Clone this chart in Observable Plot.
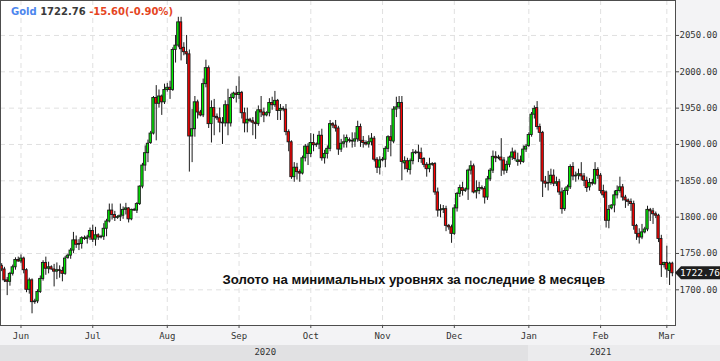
<!DOCTYPE html>
<html><head><meta charset="utf-8">
<script src="https://cdn.jsdelivr.net/npm/d3@7"></script>
<script src="https://cdn.jsdelivr.net/npm/@observablehq/plot@0.6"></script>
<style>
html,body{margin:0;padding:0;background:#fff;}
#wrap{position:relative;width:720px;height:361px;background:#f3f3f5;overflow:hidden;}
#wrap svg{position:absolute;left:0;top:0;}
.band{position:absolute;top:345px;height:16px;}
</style></head><body><div id="wrap"></div>
<script>
const dates = [
"2020-05-24","2020-05-25","2020-05-26","2020-05-27","2020-05-28","2020-05-29","2020-05-31",
"2020-06-01","2020-06-02","2020-06-03","2020-06-04","2020-06-05","2020-06-07","2020-06-08","2020-06-09","2020-06-10","2020-06-11","2020-06-12","2020-06-14","2020-06-15","2020-06-16","2020-06-17","2020-06-18","2020-06-19","2020-06-21","2020-06-22","2020-06-23","2020-06-24","2020-06-25","2020-06-26","2020-06-28","2020-06-29","2020-06-30",
"2020-07-01","2020-07-02","2020-07-03","2020-07-05","2020-07-06","2020-07-07","2020-07-08","2020-07-09","2020-07-10","2020-07-12","2020-07-13","2020-07-14","2020-07-15","2020-07-16","2020-07-17","2020-07-19","2020-07-20","2020-07-21","2020-07-22","2020-07-23","2020-07-24","2020-07-26","2020-07-27","2020-07-28","2020-07-29","2020-07-30","2020-07-31",
"2020-08-02","2020-08-03","2020-08-04","2020-08-05","2020-08-06","2020-08-07","2020-08-09","2020-08-10","2020-08-11","2020-08-12","2020-08-13","2020-08-14","2020-08-16","2020-08-17","2020-08-18","2020-08-19","2020-08-20","2020-08-21","2020-08-23","2020-08-24","2020-08-25","2020-08-26","2020-08-27","2020-08-28","2020-08-30","2020-08-31",
"2020-09-01","2020-09-02","2020-09-03","2020-09-04","2020-09-06","2020-09-07","2020-09-08","2020-09-09","2020-09-10","2020-09-11","2020-09-13","2020-09-14","2020-09-15","2020-09-16","2020-09-17","2020-09-18","2020-09-20","2020-09-21","2020-09-22","2020-09-23","2020-09-24","2020-09-25","2020-09-27","2020-09-28","2020-09-29","2020-09-30",
"2020-10-01","2020-10-02","2020-10-04","2020-10-05","2020-10-06","2020-10-07","2020-10-08","2020-10-09","2020-10-11","2020-10-12","2020-10-13","2020-10-14","2020-10-15","2020-10-16","2020-10-18","2020-10-19","2020-10-20","2020-10-21","2020-10-22","2020-10-23","2020-10-25","2020-10-26","2020-10-27","2020-10-28","2020-10-29","2020-10-30",
"2020-11-01","2020-11-02","2020-11-03","2020-11-04","2020-11-05","2020-11-06","2020-11-08","2020-11-09","2020-11-10","2020-11-11","2020-11-12","2020-11-13","2020-11-15","2020-11-16","2020-11-17","2020-11-18","2020-11-19","2020-11-20","2020-11-22","2020-11-23","2020-11-24","2020-11-25","2020-11-26","2020-11-27","2020-11-29","2020-11-30",
"2020-12-01","2020-12-02","2020-12-03","2020-12-04","2020-12-06","2020-12-07","2020-12-08","2020-12-09","2020-12-10","2020-12-11","2020-12-13","2020-12-14","2020-12-15","2020-12-16","2020-12-17","2020-12-18","2020-12-20","2020-12-21","2020-12-22","2020-12-23","2020-12-24","2020-12-25","2020-12-27","2020-12-28","2020-12-29","2020-12-30","2020-12-31",
"2021-01-01","2021-01-03","2021-01-04","2021-01-05","2021-01-06","2021-01-07","2021-01-08","2021-01-10","2021-01-11","2021-01-12","2021-01-13","2021-01-14","2021-01-15","2021-01-17","2021-01-18","2021-01-19","2021-01-20","2021-01-21","2021-01-22","2021-01-24","2021-01-25","2021-01-26","2021-01-27","2021-01-28","2021-01-29","2021-01-31",
"2021-02-01","2021-02-02","2021-02-03","2021-02-04","2021-02-05","2021-02-07","2021-02-08","2021-02-09","2021-02-10","2021-02-11","2021-02-12","2021-02-14","2021-02-15","2021-02-16","2021-02-17","2021-02-18","2021-02-19","2021-02-21","2021-02-22","2021-02-23","2021-02-24","2021-02-25","2021-02-26","2021-02-28",
"2021-03-01","2021-03-02","2021-03-03"];

const open = [
1733,1728,1713,1711,1722,1731,1741,
1739,1743,1727,1700,1713,1683,1684,1697,1715,1737,
1729,1731,1728,1725,1727,1726,1722,1744,1747,1754,
1768,1762,1763,1771,1770,1772,1781,1769,1775,1772,
1773,1784,1794,1809,1803,1799,1800,1802,1810,1812,
1797,1810,1809,1818,1842,1871,1888,1902,1915,1964,
1956,1966,1958,1975,1978,1975,2030,2036,2068,2033,
2027,2024,1911,1921,1958,1944,1940,1983,2005,1928,
1950,1938,1936,1930,1929,1954,1929,1964,1970,1968,
1971,1943,1929,1934,1932,1930,1928,1947,1944,1940,
1943,1957,1954,1960,1946,1949,1948,1917,1903,1855,
1868,1862,1860,1881,1897,1887,1902,1899,1900,1912,
1881,1887,1894,1928,1926,1922,1893,1901,1903,1906,
1905,1904,1907,1924,1905,1902,1900,1903,1908,1879,
1868,1878,1879,1894,1910,1904,1948,1951,1957,1874,
1877,1865,1877,1888,1889,1888,1880,1872,1866,1872,
1873,1834,1809,1810,1811,1788,1786,1777,1812,1832,
1840,1836,1838,1864,1870,1834,1836,1840,1839,1827,
1852,1864,1883,1881,1882,1878,1864,1872,1882,1889,
1876,1878,1876,1893,1898,1913,1941,1950,1924,1916,
1849,1846,1847,1857,1846,1848,1834,1811,1836,1841,
1869,1856,1857,1859,1856,1850,1841,1847,1846,1865,
1857,1836,1834,1795,1812,1816,1830,1836,1841,1827,
1823,1821,1818,1788,1777,1772,1779,1783,1810,1808,
1804,1802,1770,1734,1737,1726,1736];

const high = [
1736,1731,1717,1724,1734,1744,1745,
1748,1745,1729,1716,1715,1687,1700,1719,1740,1745,
1738,1733,1735,1737,1733,1731,1746,1749,1757,1779,
1774,1769,1773,1774,1775,1785,1789,1786,1777,1775,
1791,1797,1818,1818,1808,1802,1818,1814,1819,1813,
1811,1812,1820,1843,1874,1898,1906,1918,1966,1981,
1975,1968,1983,1984,1987,2033,2050,2075,2075,2040,
2050,2030,1948,1966,1961,1947,1990,2016,2008,1960,
1962,1942,1950,1937,1960,1976,1969,1972,1980,1993,
1973,1950,1950,1936,1937,1945,1953,1966,1950,1945,
1963,1965,1973,1962,1955,1952,1955,1920,1905,1875,
1874,1865,1884,1900,1901,1915,1914,1902,1918,1921,
1892,1898,1933,1930,1933,1925,1907,1913,1913,1909,
1916,1916,1932,1928,1911,1905,1912,1915,1911,1882,
1883,1882,1897,1912,1926,1952,1965,1966,1966,1883,
1881,1880,1893,1892,1899,1895,1882,1875,1881,1875,
1875,1840,1817,1816,1815,1790,1789,1817,1834,1844,
1848,1840,1866,1877,1873,1850,1848,1843,1842,1856,
1867,1891,1890,1885,1908,1882,1877,1884,1895,1892,
1888,1884,1898,1900,1916,1944,1953,1959,1928,1918,
1856,1863,1866,1865,1855,1852,1840,1840,1844,1872,
1875,1862,1866,1875,1860,1855,1853,1852,1875,1868,
1860,1844,1836,1816,1817,1836,1843,1855,1845,1830,
1825,1825,1822,1790,1784,1790,1786,1815,1812,1812,
1807,1804,1775,1738,1760,1738,1738];

const low = [
1725,1710,1692,1705,1719,1727,1738,
1736,1722,1696,1694,1667,1680,1681,1695,1712,1720,
1722,1727,1704,1714,1716,1711,1720,1742,1742,1750,
1757,1754,1756,1768,1763,1768,1765,1760,1768,1770,
1768,1773,1792,1796,1794,1797,1794,1797,1803,1792,
1795,1808,1805,1816,1839,1863,1875,1900,1913,1905,
1950,1940,1955,1972,1962,1973,2012,2033,2015,2022,
2010,1862,1875,1910,1935,1938,1937,1978,1922,1902,
1912,1933,1916,1900,1924,1912,1924,1962,1957,1962,
1935,1916,1916,1930,1912,1907,1925,1937,1930,1938,
1938,1947,1951,1933,1933,1945,1912,1890,1852,1848,
1851,1848,1858,1876,1871,1882,1890,1896,1893,1877,
1873,1880,1890,1922,1917,1885,1889,1895,1895,1902,
1895,1896,1903,1896,1895,1898,1895,1898,1876,1860,
1858,1876,1868,1889,1883,1901,1937,1948,1850,1865,
1861,1858,1872,1886,1875,1874,1868,1855,1861,1870,
1830,1800,1799,1805,1780,1782,1764,1775,1807,1827,
1829,1834,1823,1858,1832,1825,1831,1837,1818,1823,
1849,1860,1875,1879,1856,1858,1860,1868,1878,1877,
1870,1872,1874,1889,1896,1910,1935,1920,1903,1827,
1840,1836,1844,1842,1842,1830,1804,1808,1830,1838,
1850,1848,1851,1850,1842,1834,1836,1843,1844,1852,
1832,1826,1785,1784,1810,1806,1825,1833,1822,1812,
1815,1808,1782,1768,1763,1769,1777,1780,1794,1790,
1798,1765,1717,1730,1716,1706,1718];

const close = [
1728,1713,1711,1722,1731,1741,1739,
1743,1727,1700,1713,1683,1684,1697,1715,1737,1729,
1731,1728,1725,1727,1726,1722,1743,1747,1754,1768,
1762,1763,1771,1770,1772,1781,1769,1775,1772,1773,
1784,1794,1809,1803,1799,1800,1802,1810,1812,1797,
1810,1809,1818,1842,1871,1888,1901,1915,1964,1956,
1966,1958,1975,1978,1975,2030,2036,2068,2031,2027,
2024,1911,1921,1958,1944,1940,1983,2005,1928,1950,
1938,1936,1930,1929,1954,1929,1964,1970,1968,1971,
1943,1929,1934,1932,1930,1928,1947,1944,1940,1943,
1957,1954,1960,1946,1949,1948,1917,1903,1855,1868,
1862,1860,1881,1897,1887,1902,1899,1900,1912,1881,
1887,1894,1928,1926,1922,1893,1901,1903,1909,1905,
1904,1907,1924,1905,1902,1900,1903,1908,1879,1868,
1878,1879,1894,1910,1905,1948,1951,1957,1876,1877,
1866,1877,1888,1889,1888,1880,1872,1866,1872,1873,
1834,1809,1810,1811,1788,1786,1777,1812,1832,1840,
1836,1838,1864,1870,1834,1836,1840,1839,1827,1852,
1864,1883,1881,1882,1878,1864,1872,1882,1889,1880,
1878,1876,1893,1897,1913,1941,1949,1924,1916,1849,
1846,1847,1857,1846,1848,1834,1811,1836,1841,1869,
1856,1857,1859,1856,1850,1840,1847,1846,1865,1857,
1836,1830,1795,1810,1816,1830,1836,1841,1827,1823,
1821,1818,1788,1777,1772,1779,1783,1810,1808,1804,
1802,1770,1734,1737,1728,1736,1722.76];

const monthLabels = ["Jun","Jul","Aug","Sep","Oct","Nov","Dec","Jan","Feb","Mar"];
const yearLabels = ["2020","2021"];
const priceTicks = [1700,1750,1800,1850,1900,1950,2000,2050];
const titleSymbol = "Gold";
const titleLast = "1722.76";
const titleChange = "-15.60(-0.90%)";
const note = "Золото на минимальных уровнях за последние 8 месяцев";

const candles = dates.map((d, k) => ({
  k, date: d, open: open[k], high: high[k], low: low[k], close: close[k],
  dir: close[k] >= open[k] ? "up" : "down"
}));
const monthStarts = candles.filter((c, k) => k > 0 && c.date.slice(0, 7) !== dates[k - 1].slice(0, 7)).map(c => c.k);
const tickLabel = new Map(monthStarts.map((k, j) => [k, monthLabels[j]]));
const yearStart = candles.findIndex(c => c.date.startsWith(yearLabels[1]));
const years = [
  {label: yearLabels[0], k: (0 + yearStart) / 2},
  {label: yearLabels[1], k: (yearStart + candles.length - 1) / 2}
];

const chart = Plot.plot({
  width: 720, height: 361,
  marginTop: 0, marginLeft: 0, marginRight: 45, marginBottom: 36,
  style: {background: "transparent", fontFamily: "'DejaVu Sans Mono', monospace", fontSize: "9px", color: "#333", overflow: "visible"},
  x: {type: "linear", domain: [-0.4275, 244.14], label: null},
  y: {domain: [1650.9, 2098.1], label: null},
  color: {domain: ["up", "down"], range: ["#00f000", "#ff0000"]},
  marks: [
    Plot.frame({fill: "#ffffff", stroke: null}),
    Plot.ruleY(priceTicks, {stroke: "#e0e0e0", strokeDasharray: "5,4"}),
    Plot.ruleX(monthStarts, {stroke: "#e0e0e0", strokeDasharray: "5,4"}),
    Plot.ruleX(candles, {x: "k", y1: "low", y2: "high", stroke: "#1a1a1a", strokeWidth: 1}),
    Plot.rect(candles, {x1: d => d.k - 0.42, x2: d => d.k + 0.42, y1: "open", y2: "close", fill: "dir",
      stroke: "#1a1a1a", strokeWidth: 0.9}),
    Plot.frame({stroke: "#4d4d4d"}),
    Plot.axisY(priceTicks, {anchor: "right", tickSize: 3, tickPadding: 1, tickFormat: d => d.toFixed(2), stroke: "#4d4d4d", fill: "#333", label: null}),
    Plot.axisX(monthStarts, {anchor: "bottom", tickSize: 3, tickPadding: 4, tickFormat: d => tickLabel.get(d), stroke: "#4d4d4d", fill: "#333", label: null}),
    Plot.text(years, {x: "k", text: "label", frameAnchor: "bottom", lineAnchor: "middle", dy: 27, fill: "#333"}),
    Plot.text([note], {text: d => d, frameAnchor: "bottom-left", lineAnchor: "middle", dx: 222, dy: -45.5, textAnchor: "start",
      fontWeight: "bold", fontSize: 13.2, fontFamily: "'Liberation Sans', Arial, sans-serif", fill: "#111"})
  ]
});

const wrap = document.getElementById("wrap");
const xs = chart.scale("x"), ys = chart.scale("y");
const xYear = xs.apply(yearStart);
const b1 = document.createElement("div"); b1.className = "band";
b1.style.left = "0px"; b1.style.width = xYear + "px"; b1.style.background = "#e1e1e3";
const b2 = document.createElement("div"); b2.className = "band";
b2.style.left = xYear + "px"; b2.style.right = "0px"; b2.style.background = "#ebebed";
wrap.appendChild(b1); wrap.appendChild(b2);
wrap.appendChild(chart);

const svg = d3.select(chart);
const last = close[close.length - 1];
const yy = ys.apply(last);
const xr = xs.range[1];
svg.append("path")
  .attr("d", `M${xr},${yy} L${xr + 6},${yy - 6.5} L720,${yy - 6.5} L720,${yy + 6.5} L${xr + 6},${yy + 6.5} Z`)
  .attr("fill", "#1e1e1e");
svg.append("text").attr("x", xr + 5).attr("y", yy).attr("dy", "0.35em").attr("text-anchor", "start")
  .attr("fill", "#ffffff").attr("font-family", "'DejaVu Sans Mono', monospace").attr("font-size", 9.5)
  .text(last.toFixed(2));

const t = svg.append("text").attr("x", 11).attr("y", 15.3).attr("text-anchor", "start")
  .attr("font-family", "'DejaVu Sans', sans-serif").attr("font-weight", "bold").attr("font-size", 10);
t.append("tspan").attr("fill", "#4d86ee").text(titleSymbol + " ");
t.append("tspan").attr("fill", "#3a3a3a").text(titleLast + " ");
t.append("tspan").attr("fill", "#e5461f").text(titleChange);
</script></body></html>
